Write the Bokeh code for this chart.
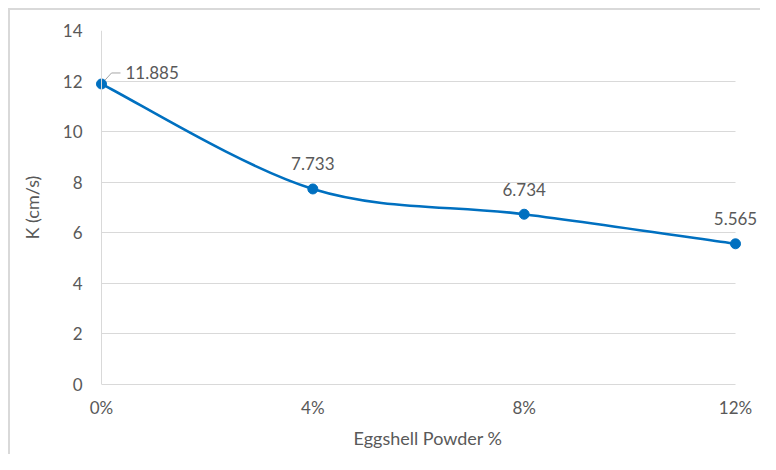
import numpy as np
from bokeh.plotting import figure
from bokeh.models import Range1d, Span, FixedTicker, ColumnDataSource
from bokeh.core.properties import value
from bokeh.embed import file_html
from bokeh.resources import INLINE

# ---- data ----
categories = ["0%", "4%", "8%", "12%"]
x_pos = [0, 4, 8, 12]
k_values = [11.885, 7.733, 6.734, 5.565]
label_texts = ["11.885", "7.733", "6.734", "5.565"]
y_ticks = [0, 2, 4, 6, 8, 10, 12, 14]
x_title = "Eggshell Powder %"
y_title = "K (cm/s)"

# ---- style ----
BLUE = "#0070C0"
TEXT = "#595959"
GRID = "#D9D9D9"
LEADER = "#A6A6A6"
FONT = "Lato"
FS_NUM = "17px"
FS_TITLE = "18px"

W, H = 760, 454
LEFT, TOP = 95, 30
FRAME_W = W - LEFT
FRAME_H = 354
PAD_L = 6
PAD_R = 25
x_lo, x_hi = x_pos[0], x_pos[-1]
dx = (x_hi - x_lo) / (FRAME_W - PAD_L - PAD_R)
y_lo, y_hi = y_ticks[0], y_ticks[-1]
dy = (y_hi - y_lo) / FRAME_H

p = figure(width=W, height=H, output_backend="svg", toolbar_location=None,
           x_range=Range1d(x_lo - PAD_L * dx, x_hi + PAD_R * dx),
           y_range=Range1d(y_lo, y_hi),
           min_border_left=LEFT, min_border_right=0,
           min_border_top=TOP, min_border_bottom=H - TOP - FRAME_H)
p.outline_line_color = None
p.background_fill_color = None
p.border_fill_color = None
# outer chart border: only its top and left edges are in view
p.styles = {
    "background-color": "white",
    "box-shadow": "inset 8px 8px 0 0 white, inset 10px 10px 0 0 #D9D9D9",
}

# grid
p.xgrid.visible = False
p.ygrid.ticker = FixedTicker(ticks=y_ticks)
p.ygrid.grid_line_color = GRID
p.ygrid.grid_line_width = 1
p.ygrid.cross_bounds = (x_lo, x_hi)

# axes
xa = p.xaxis[0]
xa.ticker = FixedTicker(ticks=x_pos)
xa.major_label_overrides = {x: c for x, c in zip(x_pos, categories)}
xa.bounds = (x_lo, x_hi)
xa.axis_line_color = GRID
xa.major_tick_line_color = None
xa.minor_tick_line_color = None
xa.major_label_standoff = 6
xa.axis_label = x_title
xa.axis_label_standoff = 6

ya = p.yaxis[0]
ya.ticker = FixedTicker(ticks=y_ticks)
ya.axis_line_color = None
ya.major_tick_line_color = None
ya.minor_tick_line_color = None
ya.major_label_standoff = 7
ya.axis_label = y_title
ya.axis_label_standoff = 17

for ax in (xa, ya):
    ax.major_label_text_font = FONT
    ax.major_label_text_font_size = FS_NUM
    ax.major_label_text_color = TEXT
    ax.axis_label_text_font = FONT
    ax.axis_label_text_font_size = FS_TITLE
    ax.axis_label_text_color = TEXT
    ax.axis_label_text_font_style = "normal"

p.add_layout(Span(location=x_lo, dimension="height", line_color=GRID, line_width=1))

# smoothed line (Catmull-Rom -> cubic Bezier)
pts = np.column_stack([x_pos, k_values]).astype(float)
n = len(pts)
seg = dict(x0=[], y0=[], x1=[], y1=[], cx0=[], cy0=[], cx1=[], cy1=[])
for i in range(n - 1):
    P0 = pts[i - 1] if i > 0 else pts[i]
    P1 = pts[i]
    P2 = pts[i + 1]
    P3 = pts[i + 2] if i + 2 < n else pts[i + 1]
    c0 = P1 + (P2 - P0) / 6.0
    c1 = P2 - (P3 - P1) / 6.0
    seg["x0"].append(P1[0]); seg["y0"].append(P1[1])
    seg["x1"].append(P2[0]); seg["y1"].append(P2[1])
    seg["cx0"].append(c0[0]); seg["cy0"].append(c0[1])
    seg["cx1"].append(c1[0]); seg["cy1"].append(c1[1])
p.bezier(x0="x0", y0="y0", x1="x1", y1="y1", cx0="cx0", cy0="cy0",
         cx1="cx1", cy1="cy1", source=ColumnDataSource(seg),
         line_color=BLUE, line_width=2.6, line_cap="round")

# leader line for first label
lx0, ly0 = x_pos[0], k_values[0]
p.line(x=[lx0, lx0 + 10 * dx, lx0 + 19 * dx],
       y=[ly0, ly0 + 11 * dy, ly0 + 11 * dy],
       line_color=LEADER, line_width=1)

# markers
p.scatter(x=x_pos, y=k_values, size=10, marker="circle",
          fill_color=BLUE, line_color=BLUE)

# data labels
p.text(x=[x_pos[0]], y=[k_values[0]], text=[label_texts[0]],
       x_offset=24, y_offset=-11, text_align="left", text_baseline="middle",
       text_font=value(FONT), text_font_size=FS_NUM, text_color=TEXT)
p.text(x=x_pos[1:], y=k_values[1:], text=label_texts[1:],
       x_offset=0, y_offset=-25, text_align="center", text_baseline="middle",
       text_font=value(FONT), text_font_size=FS_NUM, text_color=TEXT)

open("out.html", "w").write(file_html(p, INLINE))
